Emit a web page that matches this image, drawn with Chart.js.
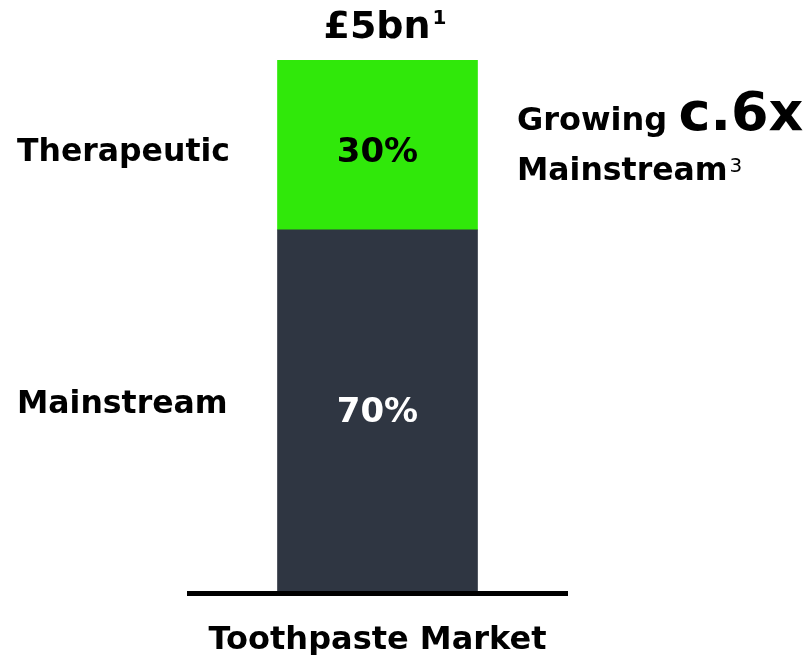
<!DOCTYPE html>
<html>
<head>
<meta charset="utf-8">
<script src="https://cdn.jsdelivr.net/npm/chart.js@4"></script>
<style>
  html, body { margin: 0; padding: 0; background: #fff; }
  #wrap { width: 808px; height: 655px; position: relative; }
</style>
</head>
<body>
<div id="wrap"><canvas id="chart"></canvas></div>
<script>
const categories = ['Toothpaste Market'];
const segmentNames = ['Mainstream', 'Therapeutic'];
const mainstreamShare = [68];
const therapeuticShare = [32];
const shareLabels = ['70%', '30%'];
const totalLabel = '£5bn';
const colors = ['#2f3642', '#30e80a'];

const FONT = '"DejaVu Sans", Verdana, sans-serif';

function text(ctx, str, x, y, font, align) {
    ctx.font = font;
    ctx.textAlign = align || 'left';
    ctx.fillText(str, x, y);
    return ctx.measureText(str).width;
}

const annotate = {
    id: 'annotate',
    afterDatasetsDraw(chart) {
        const ctx = chart.ctx;
        const area = chart.chartArea;
        const y = chart.scales.y;
        ctx.save();
        ctx.textBaseline = 'alphabetic';

        // ligne de base
        ctx.fillStyle = '#000';
        ctx.fillRect(area.left, y.getPixelForValue(0), area.right - area.left, 5);

        const mid = [
            (y.getPixelForValue(0) + y.getPixelForValue(mainstreamShare[0])) / 2,
            (y.getPixelForValue(mainstreamShare[0]) + y.getPixelForValue(100)) / 2
        ];
        const cx = (area.left + area.right) / 2;

        // pourcentages
        ctx.fillStyle = '#fff';
        text(ctx, shareLabels[0], cx, mid[0] + 12, 'bold 34px ' + FONT, 'center');
        ctx.fillStyle = '#000';
        text(ctx, shareLabels[1], cx, mid[1] + 17, 'bold 34px ' + FONT, 'center');

        // noms a gauche
        text(ctx, segmentNames[0], 17, mid[0] + 3, 'bold 31.5px ' + FONT);
        text(ctx, segmentNames[1], 17, mid[1] + 16, 'bold 31.5px ' + FONT);

        // axe x
        text(ctx, categories[0], cx, 649, 'bold 32px ' + FONT, 'center');

        // total en haut
        ctx.font = 'bold 38px ' + FONT;
        const tw = ctx.measureText(totalLabel).width;
        ctx.font = 'bold 20px ' + FONT;
        const sw = ctx.measureText('1').width;
        const tx = 385 - (tw + sw + 2) / 2;
        text(ctx, totalLabel, tx, 38, 'bold 38px ' + FONT);
        text(ctx, '1', tx + tw + 2, 24, 'bold 20px ' + FONT);

        // texte a droite
        const gw = text(ctx, 'Growing ', 517, 130, 'bold 32px ' + FONT);
        text(ctx, 'c.6x', 517 + gw, 130, 'bold 54px ' + FONT);
        const mw = text(ctx, 'Mainstream', 517, 180, 'bold 31.5px ' + FONT);
        text(ctx, '3', 517 + mw + 2, 172, '20px ' + FONT);

        ctx.restore();
    }
};

new Chart(document.getElementById('chart'), {
    type: 'bar',
    data: {
        labels: categories,
        datasets: [
            { label: segmentNames[0], data: mainstreamShare, backgroundColor: colors[0] },
            { label: segmentNames[1], data: therapeuticShare, backgroundColor: colors[1] }
        ]
    },
    options: {
        responsive: true,
        maintainAspectRatio: false,
        animation: false,
        layout: { padding: { left: 187, right: 240, top: 60, bottom: 64 } },
        plugins: { legend: { display: false }, tooltip: { enabled: false } },
        datasets: { bar: { barThickness: 200 } },
        scales: {
            x: { stacked: true, display: false },
            y: { stacked: true, display: false, min: 0, max: 100 }
        }
    },
    plugins: [annotate]
});
</script>
</body>
</html>
